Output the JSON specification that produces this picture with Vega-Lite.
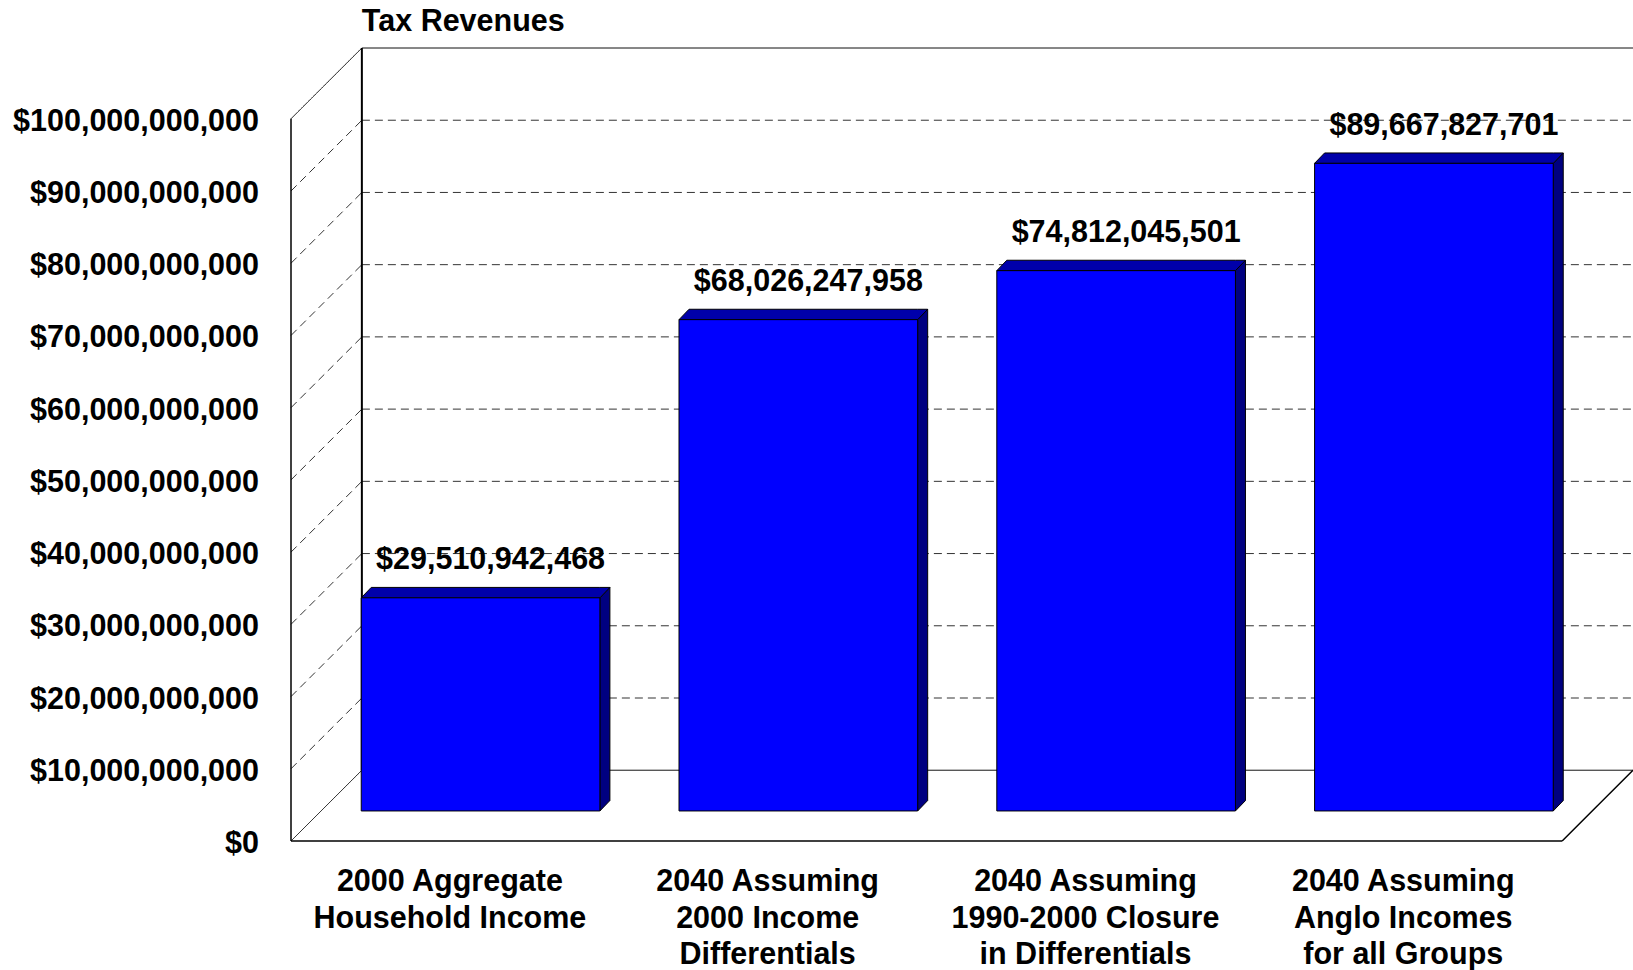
{
  "$schema": "https://vega.github.io/schema/vega-lite/v6.json",
  "autosize": {"type": "none"},
  "padding": {"left": 291, "top": 48, "right": 0, "bottom": 129},
  "width": 1342,
  "height": 793,
  "background": "white",
  "config": {"view": {"stroke": null}},
  "datasets": {
    "bars": [
      {"label": "2000 Aggregate\nHousehold Income", "value": 29510942468},
      {"label": "2040 Assuming\n2000 Income\nDifferentials", "value": 68026247958},
      {"label": "2040 Assuming\n1990-2000 Closure\nin Differentials", "value": 74812045501},
      {"label": "2040 Assuming\nAnglo Incomes\nfor all Groups", "value": 89667827701}
    ],
    "ticks": [
      {"v": 0}, {"v": 10000000000}, {"v": 20000000000}, {"v": 30000000000},
      {"v": 40000000000}, {"v": 50000000000}, {"v": 60000000000}, {"v": 70000000000},
      {"v": 80000000000}, {"v": 90000000000}, {"v": 100000000000}
    ],
    "edges": [{"edge": "front"}, {"edge": "back"}, {"edge": "floor"}, {"edge": "corner"}],
    "titles": [{"title": "Tax Revenues"}]
  },
  "layer": [
    {
      "data": {"name": "ticks"},
      "transform": [
        {"calculate": "datum.v + 9.8e9", "as": "yb"},
        {"calculate": "0.223", "as": "xa"},
        {"calculate": "4.223", "as": "xb"}
      ],
      "mark": {"type": "rule", "strokeWidth": 1},
      "encoding": {
        "x": {"field": "xa", "type": "quantitative", "scale": {"domain": [0, 4.223], "nice": false, "zero": false}, "axis": null},
        "x2": {"field": "xb"},
        "y": {"field": "yb", "type": "quantitative", "scale": {"domain": [0, 109800000000], "nice": false, "zero": false}, "axis": null},
        "strokeDash": {"condition": {"test": "datum.v == 0 || datum.v == 100000000000", "value": [1, 0]}, "value": [8, 5]},
        "color": {"condition": {"test": "datum.v == 0 || datum.v == 100000000000", "value": "black"}, "value": "#333333"}
      }
    },
    {
      "data": {"name": "ticks"},
      "transform": [
        {"calculate": "datum.v + 9.8e9", "as": "yb"},
        {"calculate": "0", "as": "xa"},
        {"calculate": "0.223", "as": "xb"}
      ],
      "mark": {"type": "rule", "strokeWidth": 1},
      "encoding": {
        "x": {"field": "xa", "type": "quantitative"},
        "x2": {"field": "xb"},
        "y": {"field": "v", "type": "quantitative", "axis": null},
        "y2": {"field": "yb"},
        "strokeDash": {"condition": {"test": "datum.v == 0 || datum.v == 100000000000", "value": [1, 0]}, "value": [8, 5]},
        "color": {"condition": {"test": "datum.v == 0 || datum.v == 100000000000", "value": "black"}, "value": "#333333"}
      }
    },
    {
      "data": {"name": "ticks"},
      "transform": [{"calculate": "0", "as": "xa"}],
      "mark": {"type": "text", "font": "Liberation Sans", "fontWeight": "bold", "fontSize": 30.5, "color": "black", "align": "right", "baseline": "middle", "dx": -32, "dy": 3},
      "encoding": {
        "x": {"field": "xa", "type": "quantitative"},
        "y": {"field": "v", "type": "quantitative", "axis": null},
        "text": {"field": "v", "type": "quantitative", "format": "$,.0f"}
      }
    },
    {
      "data": {"name": "titles"},
      "transform": [
        {"calculate": "0.223", "as": "xa"},
        {"calculate": "1.098e11", "as": "ya"}
      ],
      "mark": {"type": "text", "font": "Liberation Sans", "fontWeight": "bold", "fontSize": 30.5, "color": "black", "align": "left", "baseline": "alphabetic", "dy": -17},
      "encoding": {
        "x": {"field": "xa", "type": "quantitative"},
        "y": {"field": "ya", "type": "quantitative", "axis": null},
        "text": {"field": "title", "type": "nominal"}
      }
    },
    {
      "data": {"name": "edges"},
      "transform": [
        {"calculate": "datum.edge == 'front' ? 0 : datum.edge == 'back' ? 0.223 : datum.edge == 'floor' ? 0 : 4", "as": "xa"},
        {"calculate": "datum.edge == 'front' ? 0 : datum.edge == 'back' ? 0.223 : datum.edge == 'floor' ? 4 : 4.223", "as": "xb"},
        {"calculate": "datum.edge == 'back' ? 9.8e9 : 0", "as": "ya"},
        {"calculate": "datum.edge == 'front' ? 1e11 : datum.edge == 'back' ? 1.098e11 : datum.edge == 'floor' ? 0 : 9.8e9", "as": "yb"}
      ],
      "mark": {"type": "rule", "color": "black"},
      "encoding": {
        "x": {"field": "xa", "type": "quantitative"},
        "x2": {"field": "xb"},
        "y": {"field": "ya", "type": "quantitative", "axis": null},
        "y2": {"field": "yb"},
        "strokeWidth": {"condition": {"test": "datum.edge == 'back'", "value": 2}, "value": 1.5}
      }
    },
    {
      "data": {"name": "bars"},
      "transform": [
        {"window": [{"op": "row_number", "as": "idx"}]},
        {"calculate": "datum.idx - 1 + 0.972", "as": "x1"},
        {"calculate": "datum.value + 4.16e9", "as": "top"},
        {"calculate": "[0, 1]", "as": "k"},
        {"flatten": ["k"]},
        {"calculate": "datum.x1 + datum.k * 0.0315", "as": "px"},
        {"calculate": "4.16e9 + datum.k * 1.44e9", "as": "pyl"},
        {"calculate": "datum.top + datum.k * 1.44e9", "as": "pyu"}
      ],
      "mark": {"type": "area", "orient": "vertical", "fill": "#000080", "fillOpacity": 1, "stroke": "black", "strokeWidth": 1},
      "encoding": {
        "x": {"field": "px", "type": "quantitative"},
        "y": {"field": "pyl", "type": "quantitative", "axis": null},
        "y2": {"field": "pyu"},
        "detail": {"field": "label", "type": "nominal"}
      }
    },
    {
      "data": {"name": "bars"},
      "transform": [
        {"window": [{"op": "row_number", "as": "idx"}]},
        {"calculate": "datum.idx - 1 + 0.221", "as": "x0"},
        {"calculate": "datum.idx - 1 + 0.972", "as": "x1"},
        {"calculate": "datum.value + 4.16e9", "as": "top"},
        {"calculate": "[0, 1, 2, 3]", "as": "k"},
        {"flatten": ["k"]},
        {"calculate": "datum.k == 0 ? datum.x0 : datum.k == 1 ? datum.x0 + 0.0315 : datum.k == 2 ? datum.x1 : datum.x1 + 0.0315", "as": "px"},
        {"calculate": "datum.k == 3 ? datum.top + 1.44e9 : datum.top", "as": "pyl"},
        {"calculate": "datum.k == 0 ? datum.top : datum.top + 1.44e9", "as": "pyu"}
      ],
      "mark": {"type": "area", "orient": "vertical", "fill": "#0000AA", "fillOpacity": 1, "stroke": "black", "strokeWidth": 1},
      "encoding": {
        "x": {"field": "px", "type": "quantitative"},
        "y": {"field": "pyl", "type": "quantitative", "axis": null},
        "y2": {"field": "pyu"},
        "detail": {"field": "label", "type": "nominal"}
      }
    },
    {
      "data": {"name": "bars"},
      "transform": [
        {"window": [{"op": "row_number", "as": "idx"}]},
        {"calculate": "datum.idx - 1 + 0.221", "as": "x0"},
        {"calculate": "datum.idx - 1 + 0.972", "as": "x1"},
        {"calculate": "4.16e9", "as": "base"},
        {"calculate": "datum.value + 4.16e9", "as": "top"}
      ],
      "mark": {"type": "rect", "fill": "#0000FF", "stroke": "black", "strokeWidth": 1},
      "encoding": {
        "x": {"field": "x0", "type": "quantitative"},
        "x2": {"field": "x1"},
        "y": {"field": "base", "type": "quantitative", "axis": null},
        "y2": {"field": "top"}
      }
    },
    {
      "data": {"name": "bars"},
      "transform": [
        {"window": [{"op": "row_number", "as": "idx"}]},
        {"calculate": "datum.idx - 1 + 0.628", "as": "xc"},
        {"calculate": "datum.value + 5.6e9", "as": "ytop"}
      ],
      "mark": {"type": "text", "font": "Liberation Sans", "fontWeight": "bold", "fontSize": 30.5, "color": "black", "align": "center", "baseline": "alphabetic", "dy": -18},
      "encoding": {
        "x": {"field": "xc", "type": "quantitative"},
        "y": {"field": "ytop", "type": "quantitative", "axis": null},
        "text": {"field": "value", "type": "quantitative", "format": "$,.0f"}
      }
    },
    {
      "data": {"name": "bars"},
      "transform": [
        {"window": [{"op": "row_number", "as": "idx"}]},
        {"calculate": "datum.idx - 0.5", "as": "xm"},
        {"calculate": "0", "as": "y0"}
      ],
      "mark": {"type": "text", "font": "Liberation Sans", "fontWeight": "bold", "fontSize": 30.5, "color": "black", "align": "center", "baseline": "alphabetic", "dy": 50, "lineBreak": "\n", "lineHeight": 36.5},
      "encoding": {
        "x": {"field": "xm", "type": "quantitative"},
        "y": {"field": "y0", "type": "quantitative", "axis": null},
        "text": {"field": "label", "type": "nominal"}
      }
    }
  ]
}
